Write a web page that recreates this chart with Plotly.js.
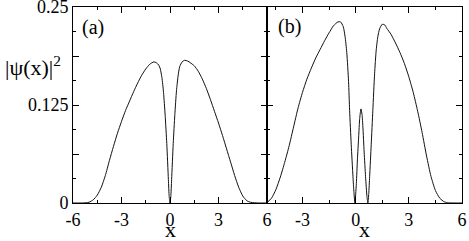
<!DOCTYPE html>
<html>
<head>
<meta charset="utf-8">
<script src="https://cdn.plot.ly/plotly-3.0.1.min.js"></script>
<style>html,body{margin:0;padding:0;background:#fff;}#plot{width:469px;height:241px;}</style>
</head>
<body>
<div id="plot"></div>
<script>
// Panel (a)
var xA = [-6, -5.5, -5.2, -5.0, -4.75, -4.5, -4.25, -4.0, -3.75, -3.5, -3.25, -3.0, -2.75, -2.5, -2.25, -2.0, -1.75, -1.5, -1.25, -1.0, -0.85, -0.7, -0.6, -0.5, -0.4, -0.3, -0.2, -0.1, -0.05, 0,
          0.05, 0.1, 0.2, 0.3, 0.4, 0.5, 0.6, 0.75, 0.9, 1.1, 1.25, 1.5, 1.75, 2.0, 2.25, 2.5, 2.75, 3.0, 3.25, 3.5, 3.75, 4.0, 4.25, 4.5, 4.75, 5.0, 5.5, 6];
var yA = [0, 0, 0.0003, 0.001, 0.004, 0.010, 0.020, 0.035, 0.054, 0.072, 0.089, 0.104, 0.118, 0.130, 0.142, 0.153, 0.163, 0.171, 0.177, 0.180, 0.179, 0.176, 0.171, 0.160, 0.141, 0.112, 0.076, 0.030, 0.008, 0,
          0.008, 0.030, 0.076, 0.113, 0.143, 0.162, 0.174, 0.180, 0.182, 0.181, 0.179, 0.175, 0.168, 0.158, 0.146, 0.132, 0.117, 0.102, 0.086, 0.069, 0.052, 0.035, 0.020, 0.009, 0.003, 0.0008, 0, 0];
// Panel (b)
var xB = [-5, -4.75, -4.5, -4.25, -4.0, -3.75, -3.5, -3.25, -3.0, -2.75, -2.5, -2.25, -2.0, -1.75, -1.5, -1.25, -1.0, -0.85, -0.7, -0.6, -0.5, -0.4, -0.34, -0.25, -0.15, -0.1, -0.04,
          0.04, 0.1, 0.17, 0.23, 0.3, 0.36, 0.41, 0.48, 0.56, 0.64, 0.69, 0.74, 0.79, 0.88, 0.97, 1.07, 1.16, 1.25, 1.35, 1.5, 1.65, 1.75, 2.0, 2.25, 2.5, 2.75, 3.0, 3.25, 3.5, 3.75, 4.0, 4.25, 4.5, 4.75, 5.0, 5.25, 6];
var yB = [0.0005, 0.006, 0.017, 0.033, 0.052, 0.073, 0.097, 0.121, 0.141, 0.158, 0.172, 0.185, 0.196, 0.207, 0.217, 0.226, 0.231, 0.231, 0.225, 0.213, 0.192, 0.155, 0.118, 0.075, 0.0335, 0.015, 0,
          0.025, 0.055, 0.084, 0.108, 0.120, 0.113, 0.097, 0.065, 0.0335, 0.008, 0, 0.012, 0.0335, 0.075, 0.118, 0.165, 0.195, 0.212, 0.222, 0.228, 0.227, 0.223, 0.215, 0.204, 0.192, 0.178, 0.161, 0.141, 0.117, 0.090, 0.060, 0.034, 0.016, 0.006, 0.0015, 0.0002, 0];

var xTickVals = [-6, -3, 0, 3, 6];
var xTickText = ['-6', '-3', '0', '3', '6'];
var yTickVals = [0, 0.0625, 0.125, 0.1875, 0.25];
var yTickText = ['0', '', '0.125', '', '0.25'];

var lineStyle = {color: '#111', width: 1, shape: 'spline', smoothing: 0.6};
var traces = [
  {x: xA, y: yA, mode: 'lines', line: lineStyle, xaxis: 'x', yaxis: 'y', hoverinfo: 'skip'},
  {x: xB, y: yB, mode: 'lines', line: lineStyle, xaxis: 'x2', yaxis: 'y2', hoverinfo: 'skip'}
];

var fontFam = 'Liberation Serif, serif';
var split = 194 / 389;
function xax(dom, rng) {
  return {
    domain: dom, range: rng, tickmode: 'array', tickvals: xTickVals, ticktext: xTickText,
    ticks: 'inside', ticklen: 6, tickwidth: 1, tickcolor: '#000',
    minor: {dtick: 1.5, tick0: 0, ticks: 'inside', ticklen: 3, tickwidth: 1, tickcolor: '#000'},
    showline: true, linecolor: '#000', linewidth: 1, mirror: 'ticks',
    showgrid: false, zeroline: false, ticklabeloverflow: 'allow',
    tickfont: {family: fontFam, size: 18, color: '#000'}
  };
}
function yax(showLabels, anchor) {
  return {
    domain: [0, 1], range: [0, 0.25], anchor: anchor,
    tickmode: 'array', tickvals: yTickVals, ticktext: yTickText, showticklabels: showLabels,
    ticks: 'inside', ticklen: 6, tickwidth: 1, tickcolor: '#000',
    minor: {dtick: 0.03125, tick0: 0, ticks: 'inside', ticklen: 3, tickwidth: 1, tickcolor: '#000'},
    showline: true, linecolor: '#000', linewidth: 1, mirror: 'ticks',
    showgrid: false, zeroline: false, ticklabeloverflow: 'allow',
    tickfont: {family: fontFam, size: 18, color: '#000'}
  };
}
var xa = xax([0, split], [-6, 6]);
var xb = xax([split, 1], [-5, 6]);
xb.anchor = 'y2';
xa.anchor = 'y';
var H = 196;
var layout = {
  width: 469, height: 241,
  margin: {l: 73, r: 7, t: 7, b: 38},
  font: {family: fontFam, size: 18, color: '#000'},
  paper_bgcolor: '#fff', plot_bgcolor: '#fff',
  showlegend: false,
  xaxis: xa, xaxis2: xb,
  yaxis: yax(true, 'x'),
  yaxis2: yax(false, 'x2'),
  annotations: [
    {xref: 'paper', yref: 'paper', x: (3 - 73) / 389, y: (203 - 66) / H, xanchor: 'left', yanchor: 'middle',
     text: '|ψ(x)|<sup>2</sup>', showarrow: false, font: {family: fontFam, size: 22, color: '#000'}},
    {xref: 'paper', yref: 'paper', x: (80 - 73) / 389, y: (203 - 27) / H, xanchor: 'left', yanchor: 'middle',
     text: '(a)', showarrow: false, font: {family: fontFam, size: 20, color: '#000'}},
    {xref: 'paper', yref: 'paper', x: (276 - 73) / 389, y: (203 - 26) / H, xanchor: 'left', yanchor: 'middle',
     text: '(b)', showarrow: false, font: {family: fontFam, size: 20, color: '#000'}},
    {xref: 'paper', yref: 'paper', x: (170 - 73) / 389, y: (203 - 229) / H, xanchor: 'center', yanchor: 'middle',
     text: 'x', showarrow: false, font: {family: fontFam, size: 22, color: '#000'}},
    {xref: 'paper', yref: 'paper', x: (364.5 - 73) / 389, y: (203 - 229) / H, xanchor: 'center', yanchor: 'middle',
     text: 'x', showarrow: false, font: {family: fontFam, size: 22, color: '#000'}}
  ]
};
Plotly.newPlot('plot', traces, layout, {displayModeBar: false, staticPlot: true});
</script>
</body>
</html>
